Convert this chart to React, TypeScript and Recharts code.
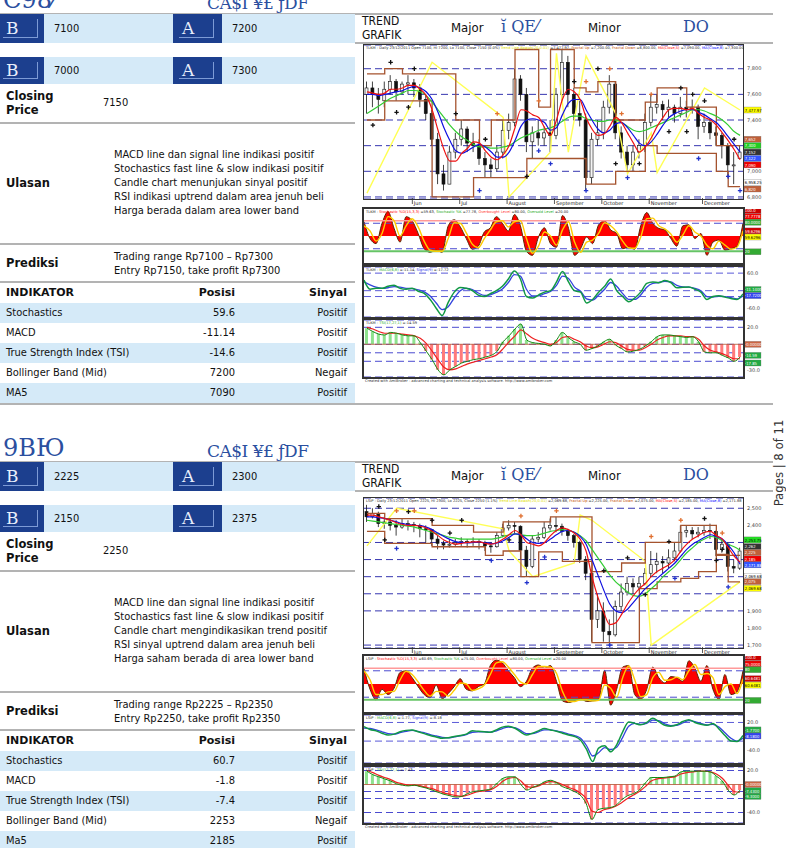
import React from 'react';
import { ComposedChart, Bar, Line, Area, XAxis, YAxis, CartesianGrid, ReferenceLine, Cell } from 'recharts';

const FONT = '"DejaVu Sans Condensed", "DejaVu Sans", sans-serif';
const BOLD = '"DejaVu Sans", sans-serif';
const SERIF = '"DejaVu Serif", "Liberation Serif", serif';
const DARK = '#1c3f8e';
const LIGHT = '#d5eaf8';
const RULE = '#b3b3b3';
const GLYPH = '#2b4f9f';

// x axis: month starts as bar index
const monthIdx = [8, 16, 24, 32, 40, 48, 57];
const monthNames = ['Jun', 'Jul', 'August', 'September', 'October', 'November', 'December'];

// ---------------- TLKM ----------------
const tlkmSupport = ['7100', '7000'];
const tlkmResist = ['7200', '7300'];
const tlkmClose = '7150';
const tlkmNotes = [
  'MACD line dan signal line indikasi positif',
  'Stochastics fast line & slow indikasi positif',
  'Candle chart menunjukan sinyal positif',
  'RSI indikasi uptrend dalam area jenuh beli',
  'Harga berada dalam area lower band',
];
const tlkmForecast = ['Trading range Rp7100 – Rp7300', 'Entry Rp7150, take profit Rp7300'];
const tlkmIndicators = ['Stochastics', 'MACD', 'True Strength Index (TSI)', 'Bollinger Band (Mid)', 'MA5'];
const tlkmPosisi = ['59.6', '-11.14', '-14.6', '7200', '7090'];
const tlkmSinyal = ['Positif', 'Positif', 'Positif', 'Negaif', 'Positif'];

// open, high, low, close
const tlkmCandles = [
  [7600, 7700, 7450, 7650], [7650, 7700, 7500, 7600], [7600, 7650, 7450, 7560], [7550, 7700, 7500, 7640],
  [7640, 7750, 7600, 7700], [7700, 7720, 7550, 7620], [7620, 7700, 7600, 7680], [7680, 7750, 7600, 7690],
  [7690, 7720, 7580, 7650], [7650, 7680, 7500, 7560], [7560, 7600, 7400, 7450], [7450, 7480, 7200, 7250],
  [7250, 7300, 6900, 6980], [6980, 7050, 6850, 6900], [6900, 7200, 6900, 7150], [7150, 7300, 7100, 7250],
  [7250, 7400, 7200, 7330], [7330, 7350, 7150, 7220], [7220, 7300, 7150, 7200], [7200, 7250, 7050, 7100],
  [7100, 7150, 6950, 7050], [7050, 7100, 6950, 7020], [7020, 7200, 7000, 7150], [7150, 7400, 7100, 7320],
  [7320, 7450, 7250, 7380], [7380, 7800, 7350, 7720], [7720, 7750, 7550, 7600], [7600, 7650, 7150, 7230],
  [7230, 7350, 7100, 7300], [7300, 7400, 7200, 7260], [7260, 7350, 7200, 7300], [7300, 7400, 7150, 7280],
  [7280, 7650, 7250, 7600], [7600, 7950, 7550, 7850], [7850, 7900, 7500, 7600], [7600, 7650, 7400, 7450],
  [7450, 7550, 7350, 7400], [7400, 7450, 6850, 6950], [6950, 7300, 6900, 7250], [7250, 7400, 7200, 7300],
  [7300, 7550, 7250, 7500], [7500, 7750, 7450, 7680], [7680, 7700, 7250, 7300], [7300, 7350, 7100, 7150],
  [7150, 7200, 7000, 7050], [7050, 7200, 7000, 7150], [7150, 7250, 7100, 7200], [7200, 7450, 7150, 7380],
  [7380, 7600, 7350, 7500], [7500, 7600, 7450, 7520], [7520, 7550, 7400, 7480], [7480, 7560, 7420, 7500],
  [7500, 7520, 7380, 7450], [7450, 7580, 7420, 7500], [7500, 7550, 7420, 7480], [7480, 7560, 7450, 7500],
  [7500, 7520, 7250, 7350], [7350, 7450, 7300, 7380], [7380, 7400, 7250, 7300], [7300, 7350, 7200, 7280],
  [7280, 7300, 7100, 7200], [7200, 7220, 6950, 7050], [7050, 7150, 6900, 7050], [7100, 7200, 7100, 7150],
];
const tlkmMa5 = [7620, 7610, 7600, 7610, 7640, 7640, 7650, 7670, 7670, 7640, 7590, 7480, 7320, 7170, 7080, 7080, 7140, 7180, 7230, 7220, 7160, 7110, 7090, 7130, 7200, 7340, 7480, 7470, 7440, 7420, 7340, 7280, 7400, 7560, 7640, 7620, 7560, 7420, 7330, 7280, 7290, 7350, 7420, 7380, 7300, 7220, 7150, 7190, 7260, 7350, 7420, 7480, 7490, 7490, 7480, 7490, 7450, 7420, 7400, 7360, 7300, 7240, 7170, 7090];
const tlkmMa8 = [7600, 7600, 7590, 7600, 7610, 7620, 7630, 7650, 7660, 7650, 7620, 7560, 7460, 7340, 7240, 7160, 7140, 7160, 7190, 7210, 7190, 7150, 7110, 7110, 7150, 7240, 7350, 7400, 7410, 7400, 7380, 7320, 7340, 7440, 7530, 7560, 7560, 7480, 7400, 7330, 7300, 7320, 7370, 7380, 7340, 7280, 7220, 7200, 7230, 7290, 7360, 7420, 7450, 7470, 7480, 7480, 7460, 7440, 7410, 7380, 7330, 7270, 7210, 7150];
const tlkmMa20 = [7450, 7480, 7510, 7540, 7570, 7590, 7610, 7630, 7630, 7620, 7590, 7540, 7480, 7420, 7360, 7310, 7270, 7240, 7210, 7190, 7190, 7180, 7180, 7190, 7200, 7230, 7260, 7280, 7300, 7320, 7330, 7340, 7360, 7390, 7420, 7430, 7430, 7410, 7400, 7390, 7390, 7400, 7400, 7380, 7350, 7320, 7310, 7320, 7340, 7360, 7380, 7400, 7420, 7440, 7460, 7480, 7480, 7470, 7450, 7430, 7400, 7360, 7310, 7280];
const tlkmFracUp = [7760, 7760, 7760, 7800, 7800, 7800, 7760, 7760, 7760, 7760, 7760, 7760, 7760, 7760, 7760, 7400, 7400, 7400, 7400, 7200, 7200, 7400, 7400, 7400, 7400, 7950, 7950, 7950, 7950, 7500, 7500, 7950, 7950, 7950, 7950, 7650, 7650, 7620, 7620, 7700, 7700, 7700, 7400, 7400, 7400, 7400, 7400, 7540, 7540, 7650, 7650, 7650, 7650, 7650, 7500, 7500, 7500, 7500, 7500, 7200, 7200, 7200, 7200, 7200];
const tlkmFracDn = [7400, 7400, 7400, 7550, 7550, 7550, 7550, 7550, 7550, 7550, 7550, 6800, 6800, 6800, 6800, 6800, 6800, 6800, 6950, 6950, 6950, 6950, 6950, 6950, 6950, 6950, 6950, 7100, 7100, 7100, 7100, 7100, 7100, 7100, 7100, 7100, 7100, 6900, 6900, 6900, 6900, 6900, 7000, 7000, 7000, 7000, 7000, 7200, 7200, 7140, 7140, 7140, 7140, 7140, 7140, 7140, 7140, 7140, 7140, 7000, 7000, 6880, 6880, 6880];
const tlkmZigzag = [[0, 6830], [11, 7850], [23, 7420], [24, 6800], [31, 7150], [32, 7920], [34, 7150], [37, 7900], [42, 7450], [44, 6980], [48, 7300], [49, 6990], [57, 7650], [63, 7478]];
const tlkmMarkBlack = [[4, 7850], [8, 7800], [15, 7450], [20, 7250], [35, 7700], [39, 7800], [53, 7650], [55, 7600], [57, 7550], [62, 7250], [1, 7360], [5, 7460], [7, 7500], [27, 6960], [42, 7060], [46, 7060], [51, 7310], [54, 7310]];
const tlkmMarkBlue = [[19, 6850], [29, 7160], [31, 7060], [37, 6850], [44, 6950], [56, 7100], [61, 6960], [63, 6850]];
const tlkmMarkOrange = [[22, 7450], [29, 7550], [37, 7700], [41, 7800], [43, 7450], [48, 7600]];
const tlkmStoch = [78, 45, 35, 75, 98, 65, 38, 88, 80, 55, 25, 18, 22, 18, 70, 82, 68, 45, 24, 30, 58, 66, 88, 75, 60, 92, 70, 20, 12, 48, 66, 35, 28, 90, 65, 12, 25, 48, 35, 72, 80, 62, 55, 25, 28, 24, 70, 96, 75, 65, 62, 45, 30, 70, 72, 45, 55, 12, 38, 42, 22, 25, 30, 75];
const tlkmStochSlow = [70, 60, 40, 55, 88, 80, 50, 70, 84, 68, 40, 22, 20, 20, 45, 76, 75, 56, 34, 27, 45, 62, 78, 80, 68, 78, 80, 45, 16, 30, 58, 50, 32, 62, 78, 38, 18, 38, 42, 55, 76, 70, 58, 40, 27, 26, 48, 84, 85, 70, 64, 54, 38, 52, 70, 58, 50, 32, 25, 40, 32, 24, 28, 60];
const tlkmMacd = [36, 5, 8, 8, 15, 19, 8, 5, 8, -2, -9, -30, -60, -85, -40, -5, 11, 8, 0, -15, -20, -10, 0, 15, 40, 67, 40, -20, -25, -15, -5, 0, 30, 66, 30, 0, -5, -42, -30, -5, 15, 40, 0, -20, -38, -25, -5, 25, 30, 27, 35, 28, 10, 12, 13, 5, -5, -30, -20, -17, -22, -27, -30, -11];
const tlkmMacdSig = [30, 20, 12, 8, 10, 14, 12, 8, 7, 3, -4, -18, -42, -65, -55, -25, 0, 8, 4, -8, -16, -14, -6, 6, 28, 55, 50, 5, -18, -18, -10, -3, 18, 50, 42, 12, -2, -28, -32, -15, 5, 28, 15, -10, -30, -30, -15, 12, 25, 28, 32, 30, 18, 13, 12, 8, 0, -20, -22, -19, -20, -24, -28, -18];
const tlkmTsi = [19, 15, 12, 11, 14, 13, 11, 10, 10, 2, -8, -18, -30, -36, -30, -26, -22, -20, -18, -17, -15, -13, -8, 3, 10, 18, 24, 5, 2, 1, 0, -2, 5, 14, 8, 3, 0, -7, -5, -2, 3, 6, -1, -5, -9, -8, -6, -2, 3, 9, 11, 11, 10, 9, 8, 9, 3, -9, -10, -10, -13, -16, -20, -15];
const tlkmTsiSig = [20, 18, 15, 13, 13, 13, 12, 11, 10, 7, 1, -8, -18, -27, -30, -29, -26, -23, -21, -19, -17, -15, -12, -5, 3, 10, 17, 12, 7, 4, 2, 0, 2, 8, 9, 6, 3, -2, -4, -3, 0, 3, 2, -2, -6, -7, -7, -4, 0, 5, 8, 10, 10, 10, 9, 9, 6, -2, -7, -9, -11, -14, -17, -17];

// ---------------- LSIP ----------------
const lsipSupport = ['2225', '2150'];
const lsipResist = ['2300', '2375'];
const lsipClose = '2250';
const lsipNotes = [
  'MACD line dan signal line indikasi positif',
  'Stochastics fast line & slow indikasi positif',
  'Candle chart mengindikasikan trend positif',
  'RSI sinyal uptrend dalam area jenuh beli',
  'Harga saham berada di area lower band',
];
const lsipForecast = ['Trading range Rp2225 – Rp2350', 'Entry Rp2250, take profit Rp2350'];
const lsipIndicators = ['Stochastics', 'MACD', 'True Strength Index (TSI)', 'Bollinger Band (Mid)', 'Ma5'];
const lsipPosisi = ['60.7', '-1.8', '-7.4', '2253', '2185'];
const lsipSinyal = ['Positif', 'Positif', 'Positif', 'Negaif', 'Positif'];

const lsipCandles = [
  [2480, 2520, 2420, 2450], [2450, 2500, 2440, 2470], [2470, 2480, 2390, 2410], [2410, 2450, 2380, 2420],
  [2420, 2440, 2370, 2400], [2400, 2430, 2340, 2390], [2390, 2440, 2380, 2410], [2410, 2430, 2370, 2405],
  [2405, 2420, 2360, 2400], [2400, 2410, 2330, 2380], [2380, 2400, 2300, 2375], [2375, 2380, 2280, 2320],
  [2320, 2340, 2260, 2295], [2295, 2310, 2260, 2285], [2285, 2320, 2270, 2290], [2290, 2320, 2280, 2300],
  [2300, 2330, 2280, 2305], [2305, 2320, 2270, 2300], [2300, 2330, 2280, 2305], [2305, 2320, 2260, 2300],
  [2300, 2310, 2250, 2280], [2280, 2300, 2240, 2275], [2275, 2360, 2270, 2340], [2340, 2410, 2330, 2385],
  [2385, 2430, 2370, 2400], [2400, 2420, 2350, 2395], [2395, 2400, 2200, 2255], [2255, 2280, 2100, 2160],
  [2160, 2340, 2150, 2320], [2320, 2360, 2300, 2330], [2330, 2420, 2320, 2385], [2385, 2440, 2370, 2400],
  [2400, 2450, 2360, 2395], [2395, 2410, 2340, 2365], [2365, 2380, 2310, 2340], [2340, 2350, 2270, 2300],
  [2300, 2310, 2180, 2200], [2200, 2220, 2080, 2120], [2120, 2140, 1720, 1850], [1850, 2000, 1800, 1900],
  [1900, 1950, 1720, 1780], [1780, 1850, 1710, 1760], [1760, 1960, 1750, 1925], [1925, 2060, 1900, 2010],
  [2010, 2100, 1990, 2060], [2060, 2090, 2000, 2040], [2040, 2100, 2020, 2060], [2060, 2150, 2050, 2120],
  [2120, 2250, 2100, 2170], [2170, 2240, 2120, 2190], [2190, 2220, 2120, 2180], [2180, 2260, 2150, 2210],
  [2210, 2300, 2190, 2250], [2250, 2400, 2240, 2360], [2360, 2400, 2330, 2370], [2370, 2390, 2320, 2350],
  [2350, 2390, 2330, 2360], [2360, 2400, 2340, 2370], [2370, 2410, 2320, 2365], [2365, 2370, 2220, 2260],
  [2260, 2320, 2240, 2290], [2290, 2300, 2130, 2160], [2160, 2200, 2120, 2150], [2150, 2270, 2140, 2250],
];
const lsipMa5 = [2460, 2460, 2450, 2440, 2430, 2415, 2405, 2400, 2400, 2395, 2385, 2365, 2340, 2315, 2300, 2290, 2295, 2300, 2303, 2303, 2295, 2290, 2300, 2320, 2345, 2370, 2345, 2300, 2290, 2280, 2300, 2340, 2370, 2385, 2375, 2355, 2320, 2250, 2100, 1980, 1890, 1820, 1830, 1880, 1940, 1990, 2030, 2060, 2100, 2130, 2150, 2170, 2200, 2250, 2290, 2320, 2340, 2360, 2365, 2340, 2320, 2270, 2220, 2185];
const lsipMa8 = [2450, 2450, 2445, 2440, 2430, 2420, 2410, 2405, 2400, 2398, 2390, 2375, 2355, 2335, 2318, 2305, 2300, 2298, 2300, 2302, 2298, 2293, 2298, 2310, 2330, 2350, 2345, 2320, 2300, 2295, 2300, 2320, 2345, 2365, 2370, 2360, 2335, 2290, 2200, 2110, 2020, 1940, 1900, 1890, 1910, 1950, 1990, 2030, 2060, 2090, 2120, 2150, 2180, 2220, 2260, 2290, 2310, 2330, 2345, 2335, 2320, 2285, 2240, 2172];
const lsipMa20 = [2430, 2425, 2420, 2415, 2410, 2405, 2400, 2395, 2390, 2380, 2370, 2360, 2350, 2340, 2330, 2325, 2320, 2320, 2320, 2320, 2320, 2320, 2325, 2335, 2345, 2350, 2345, 2340, 2340, 2345, 2355, 2365, 2370, 2375, 2370, 2360, 2340, 2310, 2260, 2210, 2160, 2110, 2070, 2040, 2010, 1990, 1985, 2000, 2030, 2060, 2100, 2130, 2160, 2200, 2240, 2270, 2300, 2320, 2335, 2330, 2310, 2290, 2275, 2255];
const lsipFracUp = [2470, 2470, 2470, 2440, 2440, 2440, 2440, 2440, 2440, 2440, 2440, 2400, 2400, 2400, 2400, 2400, 2400, 2400, 2360, 2360, 2360, 2360, 2360, 2420, 2420, 2420, 2420, 2420, 2420, 2420, 2420, 2450, 2450, 2450, 2450, 2450, 2450, 2450, 2130, 2130, 2130, 2130, 2130, 2180, 2180, 2180, 2180, 2300, 2300, 2300, 2300, 2300, 2300, 2400, 2400, 2400, 2400, 2400, 2400, 2225, 2225, 2225, 2225, 2225];
const lsipFracDn = [2365, 2365, 2365, 2295, 2295, 2295, 2295, 2295, 2295, 2295, 2295, 2275, 2275, 2275, 2275, 2275, 2275, 2275, 2275, 2275, 2225, 2225, 2225, 2250, 2250, 2250, 2100, 2100, 2100, 2245, 2245, 2245, 2245, 2190, 2190, 2190, 2190, 2190, 1715, 1715, 1715, 1715, 1715, 1715, 1715, 1715, 2030, 2030, 2030, 2070, 2070, 2070, 2070, 2090, 2090, 2090, 2130, 2130, 2130, 2230, 2230, 2070, 2070, 2070];
const lsipZigzag = [[0, 2280], [5, 2500], [23, 2380], [24, 2250], [28, 2100], [35, 2180], [36, 2460], [38, 2430], [47, 2190], [48, 1700], [63, 2070]];
const lsipMarkBlack = [[2, 2510], [7, 2480], [11, 2430], [16, 2430], [3, 2315], [14, 2355], [24, 2315], [40, 2135], [44, 2210], [51, 2305], [57, 2440], [60, 2260], [59, 2195], [47, 1995]];
const lsipMarkBlue = [[5, 2265], [21, 2195], [27, 2065], [30, 2215], [41, 1700], [52, 2090], [61, 2040]];
const lsipMarkOrange = [[5, 2485], [8, 2485], [26, 2455], [32, 2485], [48, 2335], [53, 2430], [60, 2355]];
const lsipStoch = [79, 40, 20, 40, 30, 42, 72, 75, 62, 45, 30, 24, 48, 22, 32, 45, 60, 40, 37, 45, 50, 85, 95, 90, 75, 62, 45, 55, 80, 86, 80, 85, 55, 18, 15, 18, 22, 17, 18, 20, 76, 10, 40, 82, 85, 30, 21, 40, 82, 62, 52, 64, 62, 55, 94, 80, 55, 85, 40, 21, 68, 30, 35, 75];
const lsipStochSlow = [75, 58, 30, 30, 35, 36, 58, 74, 68, 54, 38, 27, 36, 35, 27, 38, 52, 50, 38, 41, 48, 68, 90, 92, 82, 68, 54, 50, 68, 83, 83, 82, 70, 36, 17, 17, 20, 20, 18, 19, 48, 42, 25, 62, 84, 58, 26, 30, 62, 72, 57, 58, 63, 58, 75, 87, 68, 70, 62, 30, 45, 50, 32, 60];
const lsipMacd = [11, 5, 2, -3, -7, -5, 0, 3, 4, 0, -4, -8, -11, -14, -13, -10, -8, -5, 2, 1, 0, -1, 4, 10, 12, 8, 0, -7, -3, 2, 7, 4, 1, -3, -7, -10, -18, -38, -64, -35, -30, -43, -28, 0, 21, 18, 15, 20, 29, 22, 14, 12, 15, 22, 26, 20, 16, 14, 18, 6, -8, -20, -21, -8];
const lsipMacdSig = [8, 7, 4, 0, -4, -5, -2, 1, 3, 1, -2, -6, -9, -12, -13, -11, -9, -6, -1, 0, 0, -1, 2, 7, 10, 9, 3, -4, -4, 0, 4, 4, 2, -1, -5, -8, -14, -30, -52, -45, -34, -38, -33, -12, 12, 18, 16, 18, 25, 24, 17, 13, 14, 19, 24, 22, 18, 15, 16, 10, -2, -14, -20, -14];
const lsipTsi = [19, 14, 11, 8, 5, 1, -1, -2, -1, -3, -5, -8, -11, -14, -16, -18, -17, -13, -10, -9, -8, -6, 2, 9, 11, 11, 0, -8, -4, -1, 4, 6, 3, -3, -6, -10, -15, -27, -50, -36, -34, -33, -30, -22, -16, -13, -8, 2, 10, 10, 10, 11, 12, 18, 19, 19, 19, 19, 18, 12, 5, -8, -15, -8];
const lsipTsiSig = [20, 17, 13, 10, 7, 3, 1, -1, -1, -2, -4, -6, -9, -12, -14, -16, -17, -15, -12, -10, -9, -7, -2, 5, 9, 10, 5, -3, -4, -2, 2, 4, 3, 0, -4, -7, -12, -20, -38, -40, -36, -34, -31, -26, -20, -15, -10, -3, 5, 8, 9, 10, 11, 15, 17, 18, 19, 19, 18, 15, 9, -1, -10, -11];

// value boxes on the right edge of each pane: [value, text, background, text colour]
const tlkmPriceTags = [[7478, '7,477.97', '#ffff00', '#000'], [7250, '7,652', '#c0603a', '#fff'], [7200, '7,300', '#22cc22', '#fff'], [7150, '7,152', '#333333', '#fff'], [7100, '7,122', '#3355ff', '#fff'], [7050, '7,090', '#ee0000', '#fff'], [6914, '6,958.25', '#ffffff', '#000'], [6862, '6,820', '#c0603a', '#fff']];
const lsipPriceTags = [[2315, '2,253.75', '#22dd22', '#000'], [2276, '2,262', '#333333', '#fff'], [2241, '2,225', '#c0603a', '#fff'], [2204, '2,185', '#ee0000', '#fff'], [2169, '2,171.88', '#3355ff', '#fff'], [2100, '2,069.68', '#ffffff', '#000'], [2071, '2,075', '#c0603a', '#fff'], [2032, '2,069.68', '#ffff00', '#000']];
const tlkmStochTags = [[100, '100.0', '#cc0000', '#fff'], [88, '77.7778', '#ee0000', '#fff'], [77, '80.0000', '#33aa33', '#fff'], [60, '59.6296', '#cc0000', '#fff'], [48, '59.6296', '#ffff00', '#000'], [19, '20', '#33aa33', '#fff']];
const lsipStochTags = [[100, '100.0', '#cc0000', '#fff'], [88, '75.0000', '#ee0000', '#fff'], [77, '80', '#33aa33', '#fff'], [60, '60.6481', '#cc0000', '#fff'], [48, '60.6481', '#ffff00', '#000'], [19, '20', '#33aa33', '#fff']];
const tlkmMacdTags = [[4, '-11.1400', '#22aa44', '#fff'], [-17, '-17.7200', '#3344ee', '#fff']];
const lsipMacdTags = [[4, '-1.7700', '#22aa44', '#fff'], [-9, '-8.1800', '#3344ee', '#fff']];
const tlkmTsiTags = [[0, '-0.00000', '#cc6644', '#fff'], [-13, '-14.59', '#22aa44', '#fff'], [-22, '-17.85', '#22aa44', '#fff']];
const lsipTsiTags = [[0, '-0.00000', '#cc6644', '#fff'], [-9, '-7.4300', '#22aa44', '#fff'], [-17, '-9.3000', '#22aa44', '#fff']];

const tlkmTitles = {
  price: [['TLKM - Daily 23/12/2011 Open 7100, Hi 7200, Lo 7100, Close 7150 (0.0%) ', '#222'], ['Trend Line Bawah(20,0.01)', '#e0e000'], [' =7,477.97, ', '#222'], ['Fractal Up', '#c04a00'], [' =7,200.00, ', '#222'], ['Fractal Down', '#c04a00'], [' =6,800.00, ', '#222'], ['MA(Close,5)', '#ff0000'], [' =7,090.00, ', '#222'], ['MA(Close,8)', '#0000ff'], [' =7,300.00', '#222']],
  stoch: [['TLKM - ', '#222'], ['Stochastic %D(15,3,3)', '#ff0000'], [' =59.63, ', '#222'], ['Stochastic %K', '#22aa22'], [' =77.78, ', '#222'], ['Overbought Level', '#ff3333'], [' =80.00, ', '#222'], ['Oversold Level', '#22aa22'], [' =20.00', '#222']],
  macd: [['TLKM - ', '#222'], ['MACD(6,8)', '#22aa22'], [' =-11.14, ', '#222'], ['Signal(9)', '#3333ee'], [' =-17.72', '#222']],
  tsi: [['TLKM - ', '#222'], ['TSI(17,27,1)', '#22aa22'], [' =-14.59', '#222']],
};
const lsipTitles = {
  price: [['LSIP - Daily 23/12/2011 Open 2225, Hi 2300, Lo 2225, Close 2250 (1.1%) ', '#222'], ['Trend Line Bawah(20,0.01)', '#e0e000'], [' =2,069.68, ', '#222'], ['Fractal Up', '#c04a00'], [' =2,225.00, ', '#222'], ['Fractal Down', '#c04a00'], [' =2,075.00, ', '#222'], ['MA(Close,5)', '#ff0000'], [' =2,185.00, ', '#222'], ['MA(Close,8)', '#0000ff'], [' =2,171.88', '#222']],
  stoch: [['LSIP - ', '#222'], ['Stochastic %D(15,3,3)', '#ff0000'], [' =60.69, ', '#222'], ['Stochastic %K', '#22aa22'], [' =75.00, ', '#222'], ['Overbought Level', '#ff3333'], [' =80.00, ', '#222'], ['Oversold Level', '#22aa22'], [' =20.00', '#222']],
  macd: [['LSIP - ', '#222'], ['MACD(6,8)', '#22aa22'], [' =-1.77, ', '#222'], ['Signal(9)', '#3333ee'], [' =-8.18', '#222']],
  tsi: [['LSIP - ', '#222'], ['TSI(17,27,1)', '#22aa22'], [' =-7.43', '#222']],
};

function buildRows(candles, ma5, ma8, ma20, fUp, fDn, zz, mkB, mkU, mkO, k, d, macd, sig, tsi, tsiSig) {
  const look = (pairs) => new Map(pairs.map(([i, v]) => [i, v]));
  const zm = look(zz), bm = look(mkB), um = look(mkU), om = look(mkO);
  return candles.map(([o, h, l, c], i) => ({
    i, o, h, l, c, range: [l, h],
    ma5: ma5[i], ma8: ma8[i], ma20: ma20[i], fUp: fUp[i], fDn: fDn[i],
    zz: zm.has(i) ? zm.get(i) : null,
    mkB: bm.has(i) ? bm.get(i) : null,
    mkU: um.has(i) ? um.get(i) : null,
    mkO: om.has(i) ? om.get(i) : null,
    k: k[i], d: d[i], macd: macd[i], sig: sig[i], tsi: tsi[i], tsiSig: tsiSig[i],
  }));
}

const tlkmRows = buildRows(tlkmCandles, tlkmMa5, tlkmMa8, tlkmMa20, tlkmFracUp, tlkmFracDn, tlkmZigzag, tlkmMarkBlack, tlkmMarkBlue, tlkmMarkOrange, tlkmStoch, tlkmStochSlow, tlkmMacd, tlkmMacdSig, tlkmTsi, tlkmTsiSig);
const lsipRows = buildRows(lsipCandles, lsipMa5, lsipMa8, lsipMa20, lsipFracUp, lsipFracDn, lsipZigzag, lsipMarkBlack, lsipMarkBlue, lsipMarkOrange, lsipStoch, lsipStochSlow, lsipMacd, lsipMacdSig, lsipTsi, lsipTsiSig);

const Candle = (p: any) => {
  const { x, y, width, height, payload } = p;
  if (x == null || y == null || !payload) return <g />;
  const top = Math.min(y, y + height);
  const hh = Math.abs(height);
  const span = payload.h - payload.l || 1;
  const py = (v: number) => top + ((payload.h - v) / span) * hh;
  const cx = x + width / 2;
  const yo = py(payload.o);
  const yc = py(payload.c);
  const up = payload.c >= payload.o;
  return (
    <g>
      <line x1={cx} x2={cx} y1={top} y2={top + hh} stroke="#111" strokeWidth={0.8} />
      <rect x={x} y={Math.min(yo, yc)} width={width} height={Math.max(1, Math.abs(yo - yc))} fill={up ? '#f4f4f4' : '#111'} stroke="#111" strokeWidth={0.6} />
    </g>
  );
};

const crossDot = (color: string, key: string) => (p: any) => {
  if (!p.payload || p.payload[key] == null || p.cy == null) return <g key={p.index} />;
  return (
    <g key={p.index}>
      <line x1={p.cx - 2.2} x2={p.cx + 2.2} y1={p.cy} y2={p.cy} stroke={color} strokeWidth={1.3} />
      <line x1={p.cx} x2={p.cx} y1={p.cy - 2.2} y2={p.cy + 2.2} stroke={color} strokeWidth={1.3} />
    </g>
  );
};

const MonthTick = (p: any) => {
  const k = monthIdx.indexOf(Number(p.payload.value));
  return (
    <g>
      <line x1={p.x - 2} x2={p.x - 2} y1={p.y - 1} y2={p.y + 5} stroke="#333" strokeWidth={0.8} />
      <text x={p.x - 0.5} y={p.y + 5.5} fontSize={5} fill="#222" fontFamily="DejaVu Sans">{monthNames[k]}</text>
    </g>
  );
};

const TagLabel = (p: any) => {
  const vb = p.viewBox;
  if (!vb) return null;
  const x = vb.x + vb.width + 1;
  return (
    <g>
      <rect x={x} y={vb.y - 3} width={17} height={6} fill={p.bg} stroke="#777" strokeWidth={0.3} />
      <text x={x + 0.8} y={vb.y + 1.7} fontSize={4.2} fill={p.fg} fontFamily="DejaVu Sans Condensed, DejaVu Sans">{p.text}</text>
    </g>
  );
};

const tags = (list) =>
  list.map(([v, t, bg, fg], n) => (
    <ReferenceLine key={'t' + n} y={v} stroke="none" ifOverflow="visible" label={<TagLabel text={t} bg={bg} fg={fg} />} />
  ));

// tick label is left out where a value box sits on top of it
const tickFmt = (list, domain, h, fmt) => (v: number) =>
  list.some((t) => Math.abs(t[0] - v) < ((domain[1] - domain[0]) / h) * 6) ? '' : fmt(v);

const Title = ({ left, top, parts }) => (
  <div style={{ position: 'absolute', left, top, fontSize: 3.6, lineHeight: '5px', whiteSpace: 'nowrap', fontFamily: 'DejaVu Sans', zIndex: 3 }}>
    {parts.map(([t, c], n) => <span key={n} style={{ color: c }}>{t}</span>)}
  </div>
);

const Frame = ({ left, top, width, height, b }) => (
  <div style={{ position: 'absolute', left, top, width, height, border: `${b}px solid #333`, boxSizing: 'border-box', pointerEvents: 'none', zIndex: 2 }} />
);

const comma = (v: number) => v.toLocaleString('en-US');
const oneDec = (v: number) => v.toFixed(1);
const axisTick = { fontSize: 5, fill: '#444', fontFamily: 'DejaVu Sans' };
const CL = 363;
const YW = 30;
const PW = 379;
const CW = PW + 1 + YW;

function StockChart({ rows, g, priceDomain, priceTicks, macdDomain, macdTicks, tsiDomain, tsiTicks, titles, priceTags, stochTags, macdTags, tsiTags }) {
  const m = { top: 0, right: 0, bottom: 0, left: 1 };
  const stochDomain = [-3, 103];
  const yProps = { orientation: 'right' as const, width: YW, allowDataOverflow: true, tick: axisTick, tickLine: false, axisLine: false, tickSize: 0, tickMargin: 4 };
  return (
    <>
      <div style={{ position: 'absolute', left: CL, top: g.price[0] }}>
        <ComposedChart width={CW} height={g.price[1] + 8} data={rows} margin={m}>
          <CartesianGrid vertical={false} stroke="#3636b0" strokeDasharray="7 4" strokeWidth={1} />
          <XAxis dataKey="i" ticks={monthIdx} interval={0} tick={<MonthTick />} tickLine={false} axisLine={false} tickSize={0} tickMargin={0} height={8} />
          <YAxis {...yProps} domain={priceDomain} ticks={priceTicks} tickFormatter={tickFmt(priceTags, priceDomain, g.price[1], comma)} />
          <Line dataKey="zz" connectNulls stroke="#ffff55" strokeWidth={1.4} dot={false} isAnimationActive={false} />
          <Line dataKey="fUp" type="stepAfter" stroke="#a5532e" strokeWidth={1.3} dot={false} isAnimationActive={false} />
          <Line dataKey="fDn" type="stepAfter" stroke="#a5532e" strokeWidth={1.3} dot={false} isAnimationActive={false} />
          <Bar dataKey="range" barSize={3} shape={<Candle />} isAnimationActive={false} />
          <Line dataKey="ma20" type="monotone" stroke="#33cc33" strokeWidth={1.2} dot={false} isAnimationActive={false} />
          <Line dataKey="ma8" type="monotone" stroke="#1010e0" strokeWidth={1.2} dot={false} isAnimationActive={false} />
          <Line dataKey="ma5" type="monotone" stroke="#ee1111" strokeWidth={1.2} dot={false} isAnimationActive={false} />
          <Line dataKey="mkB" stroke="none" dot={crossDot('#111', 'mkB')} activeDot={false} isAnimationActive={false} />
          <Line dataKey="mkU" stroke="none" dot={crossDot('#2233cc', 'mkU')} activeDot={false} isAnimationActive={false} />
          <Line dataKey="mkO" stroke="none" dot={crossDot('#e07030', 'mkO')} activeDot={false} isAnimationActive={false} />
          {tags(priceTags)}
        </ComposedChart>
      </div>
      <Frame left={CL} top={g.price[0] - 1} width={PW + 2} height={g.price[1] + 2} b={1} />
      <Title left={CL + 3} top={g.price[0] + 1} parts={titles.price} />

      <div style={{ position: 'absolute', left: CL, top: g.stoch[0] }}>
        <ComposedChart width={CW} height={g.stoch[1]} data={rows} margin={m}>
          <XAxis dataKey="i" hide />
          <YAxis {...yProps} domain={stochDomain} ticks={[0, 20, 100]} tickFormatter={tickFmt(stochTags, stochDomain, g.stoch[1], oneDec)} />
          <ReferenceLine y={80} stroke="#ff9a9a" strokeWidth={1.5} />
          <ReferenceLine y={20} stroke="#66c466" strokeWidth={2} />
          <ReferenceLine y={75} stroke="#4a4ad0" strokeDasharray="7 4" />
          <ReferenceLine y={25} stroke="#4a4ad0" strokeDasharray="7 4" />
          <Area dataKey="k" baseValue={50} type="monotone" fill="#ff0000" fillOpacity={1} stroke="#5a2a00" strokeWidth={1} dot={false} isAnimationActive={false} />
          <Line dataKey="d" type="monotone" stroke="#ffcc00" strokeWidth={1.4} dot={false} isAnimationActive={false} />
          {tags(stochTags)}
        </ComposedChart>
      </div>
      <Frame left={CL - 1} top={g.stoch[0] - 2} width={PW + 4} height={g.stoch[1] + 4} b={2} />
      <Title left={CL + 3} top={g.stoch[0] + 1} parts={titles.stoch} />

      <div style={{ position: 'absolute', left: CL, top: g.macd[0] }}>
        <ComposedChart width={CW} height={g.macd[1]} data={rows} margin={m}>
          <CartesianGrid vertical={false} stroke="#5a5ad8" strokeDasharray="7 4" strokeWidth={1} />
          <XAxis dataKey="i" hide />
          <YAxis {...yProps} domain={macdDomain} ticks={macdTicks} tickFormatter={tickFmt(macdTags, macdDomain, g.macd[1], oneDec)} />
          <Line dataKey="sig" type="monotone" stroke="#3344dd" strokeWidth={1.3} dot={false} isAnimationActive={false} />
          <Line dataKey="macd" type="monotone" stroke="#119944" strokeWidth={1.5} dot={false} isAnimationActive={false} />
          {tags(macdTags)}
        </ComposedChart>
      </div>
      <Frame left={CL - 1} top={g.macd[0] - 2} width={PW + 4} height={g.macd[1] + 4} b={2} />
      <Title left={CL + 3} top={g.macd[0] + 1} parts={titles.macd} />

      <div style={{ position: 'absolute', left: CL, top: g.tsi[0] }}>
        <ComposedChart width={CW} height={g.tsi[1]} data={rows} margin={m}>
          <CartesianGrid vertical={false} stroke="#4a4ad0" strokeDasharray="7 4" strokeWidth={1} />
          <XAxis dataKey="i" hide />
          <YAxis {...yProps} domain={tsiDomain} ticks={tsiTicks} tickFormatter={tickFmt(tsiTags, tsiDomain, g.tsi[1], oneDec)} />
          <Bar dataKey="tsi" barSize={3} isAnimationActive={false}>
            {rows.map((r, n) => <Cell key={n} fill={r.tsi >= 0 ? '#8ee28e' : '#ff7a7a'} />)}
          </Bar>
          <ReferenceLine y={0} stroke="#b05030" strokeWidth={0.8} />
          <Line dataKey="tsiSig" type="monotone" stroke="#ee2222" strokeWidth={1.2} dot={false} isAnimationActive={false} />
          <Line dataKey="tsi" type="monotone" stroke="#118811" strokeWidth={1} dot={false} isAnimationActive={false} />
          {tags(tsiTags)}
        </ComposedChart>
      </div>
      <Frame left={CL - 1} top={g.tsi[0] - 2} width={PW + 4} height={g.tsi[1] + 4} b={2} />
      <Title left={CL + 3} top={g.tsi[0] + 1} parts={titles.tsi} />

      <div style={{ position: 'absolute', left: CL + 2, top: g.foot, fontSize: 3.6, fontFamily: 'DejaVu Sans', color: '#333', whiteSpace: 'nowrap' }}>
        Created with AmiBroker - advanced charting and technical analysis software. http://www.amibroker.com
      </div>
    </>
  );
}

const Rule = ({ left, top, width }) => (
  <div style={{ position: 'absolute', left, top, width, height: 1.5, background: RULE }} />
);

function LevelRow({ top, h, support, resist }) {
  const box = (left, w, glyph, gx) => (
    <div style={{ position: 'absolute', left, top, width: w, height: h, background: DARK }}>
      <div style={{ position: 'absolute', left: 3 + (gx - 6), top: 5, width: 34, height: h - 11, borderRight: '1px solid #7d9bd6', borderBottom: '1px solid #7d9bd6' }} />
      <div style={{ position: 'absolute', left: gx, top: 0, height: h, lineHeight: `${h}px`, color: '#e8eefb', fontFamily: SERIF, fontSize: 17 }}>{glyph}</div>
    </div>
  );
  const val = (left, w, text) => (
    <div style={{ position: 'absolute', left, top, width: w, height: h, background: LIGHT }}>
      <div style={{ position: 'absolute', left: 10, top: 0, lineHeight: `${h}px`, fontSize: 11 }}>{text}</div>
    </div>
  );
  return (
    <>
      {box(0, 44, 'B', 6)}
      {val(44, 129, support)}
      {box(173, 49, 'A', 182 - 173)}
      {val(222, 133, resist)}
    </>
  );
}

function Section({ top, head, support, resist, close, notes, forecast, names, pos, sig }) {
  const T = (y: number) => top + y;
  return (
    <>
      <div style={{ position: 'absolute', left: 3, top: T(-12), fontFamily: SERIF, fontSize: 24, lineHeight: '24px', color: GLYPH }}>{head}</div>
      <div style={{ position: 'absolute', left: 207, top: T(-6), fontFamily: SERIF, fontSize: 17, lineHeight: '18px', color: GLYPH, letterSpacing: -0.5 }}>CA$I ¥£ ƒDF</div>
      <Rule left={0} top={T(13)} width={773} />

      <LevelRow top={T(14)} h={29} support={support[0]} resist={resist[0]} />
      <LevelRow top={T(57)} h={27} support={support[1]} resist={resist[1]} />

      <div style={{ position: 'absolute', left: 362, top: T(14.5), fontSize: 12, lineHeight: '13px' }}>TREND</div>
      <div style={{ position: 'absolute', left: 362, top: T(28.5), fontSize: 12, lineHeight: '13px' }}>GRAFIK</div>
      <div style={{ position: 'absolute', left: 451, top: T(21), fontSize: 13, lineHeight: '14px' }}>Major</div>
      <div style={{ position: 'absolute', left: 501, top: T(18), fontSize: 16, lineHeight: '18px', fontFamily: SERIF, color: GLYPH }}>ĭ QE⁄</div>
      <div style={{ position: 'absolute', left: 588, top: T(21), fontSize: 13, lineHeight: '14px' }}>Minor</div>
      <div style={{ position: 'absolute', left: 683, top: T(18), fontSize: 16, lineHeight: '18px', fontFamily: SERIF, color: GLYPH }}>DO</div>
      <Rule left={355} top={T(42)} width={418} />

      <div style={{ position: 'absolute', left: 6, top: T(89), fontFamily: BOLD, fontWeight: 700, fontSize: 11.5, lineHeight: '14px' }}>Closing<br />Price</div>
      <div style={{ position: 'absolute', left: 103, top: T(96), fontSize: 11, lineHeight: '14px' }}>{close}</div>
      <Rule left={0} top={T(122)} width={355} />

      <div style={{ position: 'absolute', left: 6, top: T(176), fontFamily: BOLD, fontWeight: 700, fontSize: 11.5, lineHeight: '14px' }}>Ulasan</div>
      <div style={{ position: 'absolute', left: 114, top: T(148), fontSize: 11, lineHeight: '13.9px', whiteSpace: 'nowrap' }}>
        {notes.map((t, n) => <div key={n}>{t}</div>)}
      </div>
      <Rule left={0} top={T(243)} width={355} />

      <div style={{ position: 'absolute', left: 6, top: T(256), fontFamily: BOLD, fontWeight: 700, fontSize: 11.5, lineHeight: '14px' }}>Prediksi</div>
      <div style={{ position: 'absolute', left: 114, top: T(249.5), fontSize: 11, lineHeight: '14.3px', whiteSpace: 'nowrap' }}>
        {forecast.map((t, n) => <div key={n}>{t}</div>)}
      </div>
      <Rule left={0} top={T(281)} width={355} />

      <div style={{ position: 'absolute', left: 6, top: T(285), fontFamily: BOLD, fontWeight: 700, fontSize: 11, lineHeight: '15px' }}>INDIKATOR</div>
      <div style={{ position: 'absolute', left: 135, width: 100, textAlign: 'right', top: T(285), fontFamily: BOLD, fontWeight: 700, fontSize: 11, lineHeight: '15px' }}>Posisi</div>
      <div style={{ position: 'absolute', left: 247, width: 100, textAlign: 'right', top: T(285), fontFamily: BOLD, fontWeight: 700, fontSize: 11, lineHeight: '15px' }}>Sinyal</div>
      {names.map((nm, n) => (
        <div key={nm} style={{ position: 'absolute', left: 0, top: T(303 + n * 20), width: 355, height: 20, background: n % 2 === 0 ? LIGHT : '#fff', fontSize: 11, lineHeight: '20px' }}>
          <span style={{ position: 'absolute', left: 6 }}>{nm}</span>
          <span style={{ position: 'absolute', right: 355 - 235 }}>{pos[n]}</span>
          <span style={{ position: 'absolute', right: 355 - 347 }}>{sig[n]}</span>
        </div>
      ))}
      <Rule left={0} top={T(403)} width={773} />
    </>
  );
}

export default function App() {
  return (
    <div style={{ position: 'absolute', left: 0, top: 0, width: 786, height: 848, overflow: 'hidden', background: '#fff', fontFamily: FONT, color: '#111' }}>
      <Section top={0} head="C98⁄" support={tlkmSupport} resist={tlkmResist} close={tlkmClose} notes={tlkmNotes} forecast={tlkmForecast} names={tlkmIndicators} pos={tlkmPosisi} sig={tlkmSinyal} />
      <Section top={448} head="9BЮ" support={lsipSupport} resist={lsipResist} close={lsipClose} notes={lsipNotes} forecast={lsipForecast} names={lsipIndicators} pos={lsipPosisi} sig={lsipSinyal} />

      <StockChart
        rows={tlkmRows}
        g={{ price: [45, 154], stoch: [209, 54], macd: [267, 50], tsi: [320, 57], foot: 379 }}
        priceDomain={[6784, 7985]}
        priceTicks={[6800, 7000, 7200, 7400, 7600, 7800]}
        macdDomain={[-90, 81]}
        macdTicks={[-80, -60, -40, -20, 0, 20, 40, 60]}
        tsiDomain={[-38.5, 28.6]}
        tsiTicks={[-30, -20, -10, 0, 10, 20]}
        titles={tlkmTitles}
        priceTags={tlkmPriceTags}
        stochTags={tlkmStochTags}
        macdTags={tlkmMacdTags}
        tsiTags={tlkmTsiTags}
      />
      <StockChart
        rows={lsipRows}
        g={{ price: [498, 150], stoch: [656, 56], macd: [715, 48], tsi: [767, 56], foot: 825 }}
        priceDomain={[1683, 2560]}
        priceTicks={[1700, 1800, 1900, 2000, 2100, 2200, 2300, 2400, 2500]}
        macdDomain={[-67, 36]}
        macdTicks={[-60, -40, -20, 0, 20]}
        tsiDomain={[-55, 25]}
        tsiTicks={[-50, -40, -30, -20, -10, 0, 10, 20]}
        titles={lsipTitles}
        priceTags={lsipPriceTags}
        stochTags={lsipStochTags}
        macdTags={lsipMacdTags}
        tsiTags={lsipTsiTags}
      />

      <div style={{ position: 'absolute', left: 778, top: 463, transform: 'translate(-50%, -50%) rotate(-90deg)', fontSize: 13, whiteSpace: 'nowrap', color: '#333' }}>
        Pages | 8 of 11
      </div>
    </div>
  );
}
